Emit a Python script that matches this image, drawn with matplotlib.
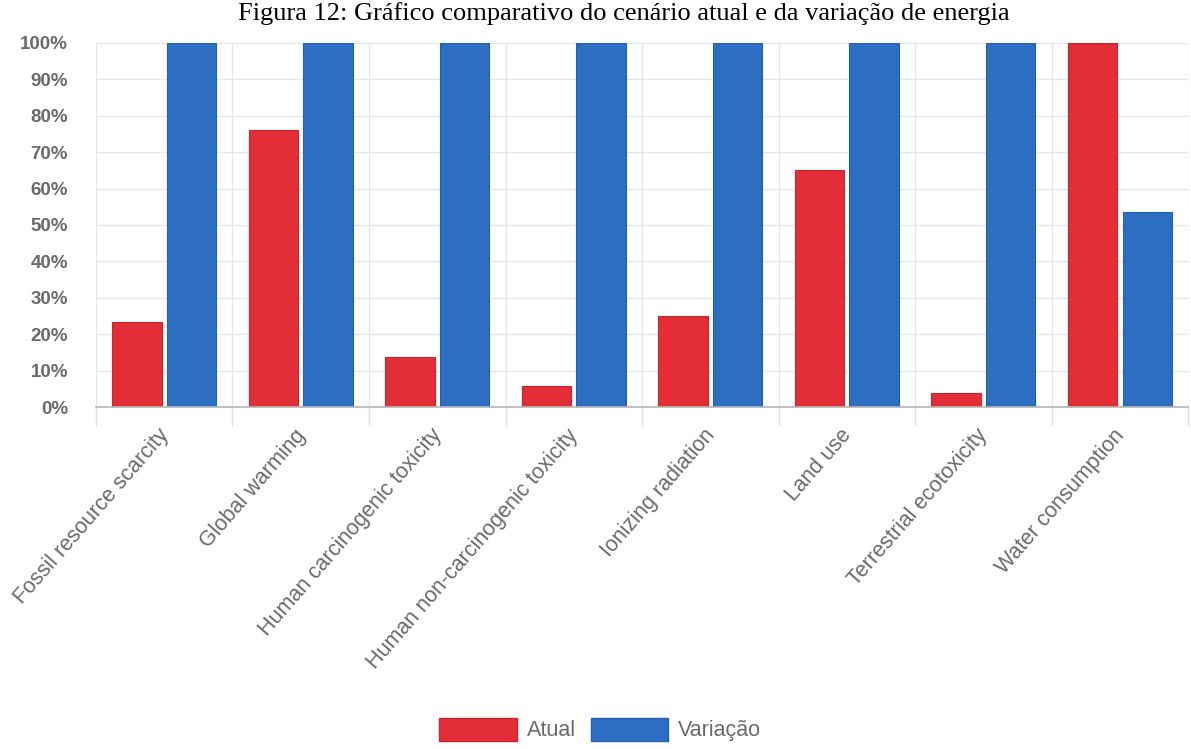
import numpy as np
import matplotlib
matplotlib.use('Agg')
import matplotlib.pyplot as plt
import matplotlib.transforms as mtransforms
from matplotlib.ticker import FixedLocator, PercentFormatter
from matplotlib.patches import Patch

categories = ['Fossil resource scarcity', 'Global warming', 'Human carcinogenic toxicity',
              'Human non-carcinogenic toxicity', 'Ionizing radiation', 'Land use',
              'Terrestrial ecotoxicity', 'Water consumption']
atual = [23.4, 76.0, 13.8, 5.8, 25.0, 65.0, 3.9, 100.0]
variacao = [100.0, 100.0, 100.0, 100.0, 100.0, 100.0, 100.0, 53.7]
series_names = ['Atual', 'Variação']
title = 'Figura 12: Gráfico comparativo do cenário atual e da variação de energia'

red = '#e32d37'
blue = '#2b6ec2'
text_grey = '#6a6a6a'

fig = plt.figure(figsize=(11.91, 7.49), dpi=100)
ax = fig.add_axes([0.0806, 0.4566, 0.9169, 0.486])

x = np.arange(len(categories))
w = 0.36
ax.bar(x - 0.2, atual, w, color=red, edgecolor='#c9252e', linewidth=0.8, zorder=3)
ax.bar(x + 0.2, variacao, w, color=blue, edgecolor='#2660aa', linewidth=0.8, zorder=3)

ax.set_xlim(-0.5, len(categories) - 0.5)
ax.set_ylim(0, 100)
ax.yaxis.set_major_locator(FixedLocator(np.arange(0, 101, 10)))
ax.yaxis.set_major_formatter(PercentFormatter(decimals=0))

# category boundaries carry the vertical grid and the small ticks below the axis
ax.set_xticks(x)
ax.set_xticks(np.arange(-0.5, len(categories), 1), minor=True)
ax.set_xticklabels(categories, rotation=49, ha='right', rotation_mode='anchor',
                   fontsize=15.5, color=text_grey, family='Liberation Sans')
ax.tick_params(axis='x', which='major', length=0, pad=13)
ax.tick_params(axis='x', which='minor', length=14, color='#e0e0e0', width=1)
ax.tick_params(axis='y', length=0, pad=20, labelsize=13.5, labelcolor=text_grey)
for lab in ax.get_yticklabels():
    lab.set_family('Liberation Sans')
    lab.set_fontweight('bold')

# nudge the slanted category labels a little to the left
shift = mtransforms.ScaledTranslation(-7 / 100, 0, fig.dpi_scale_trans)
for lab in ax.get_xticklabels():
    lab.set_transform(lab.get_transform() + shift)

ax.grid(True, axis='y', color='#e6e6e6', linewidth=1, zorder=0)
ax.grid(True, axis='x', which='minor', color='#e6e6e6', linewidth=1, zorder=0)
for side in ['top', 'right', 'left']:
    ax.spines[side].set_visible(False)
ax.spines['bottom'].set_color('#b5b5b5')
ax.spines['bottom'].set_linewidth(1.2)
ax.spines['bottom'].set_zorder(4)

fig.text(0.524, 0.982, title, ha='center', va='center', fontsize=19,
         family='Liberation Serif', color='black')

handles = [Patch(facecolor=red, edgecolor='#c9252e'), Patch(facecolor=blue, edgecolor='#2660aa')]
fig.legend(handles, series_names, loc='center', bbox_to_anchor=(0.504, 0.026), ncol=2,
           frameon=False, handlelength=3.6, handleheight=1.3, handletextpad=0.45,
           columnspacing=0.7, prop={'family': 'Liberation Sans', 'size': 15.5},
           labelcolor=text_grey)

fig.savefig('out.png', dpi=100)
